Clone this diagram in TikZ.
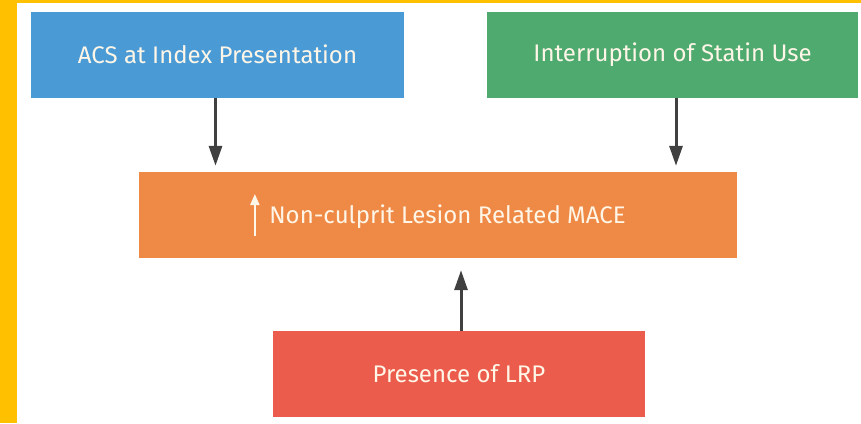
\documentclass[tikz,border=0pt]{standalone}
\usepackage{fontspec}
\setmainfont{Fira Sans}
\usepackage{tikz}
\usetikzlibrary{arrows.meta,positioning,calc}
\definecolor{FrameYellow}{HTML}{FFC000}
\definecolor{BoxBlue}{HTML}{4A9BD5}
\definecolor{BoxGreen}{HTML}{4EAA6F}
\definecolor{BoxOrange}{HTML}{EE8A46}
\definecolor{BoxRed}{HTML}{EB5C4C}
\definecolor{LabelCream}{HTML}{FFF6E8}
\definecolor{ArrGray}{HTML}{404040}

\begin{document}
\begin{tikzpicture}[x=1pt,y=-1pt,
  box/.style={inner sep=0pt,minimum height=86pt,align=center,
              text=LabelCream,font=\fontsize{24}{28}\selectfont},
  arr/.style={-{Triangle[length=20pt,width=13pt]},ArrGray,line width=3pt},
]
% frame
\fill[FrameYellow] (0,0) rectangle (861,423);
\fill[white] (17,3) rectangle (861,423);
\useasboundingbox (0,0) rectangle (861,423);
% boxes
\node[box,fill=BoxBlue,minimum width=373pt] (acs) at (217.5,54.5) {ACS at Index Presentation};
\node[box,fill=BoxGreen,minimum width=371pt] (statin) at (672.5,54.5) {Interruption of Statin Use};
\node[box,fill=BoxOrange,minimum width=598pt] (mace) at (438,215)
  {\tikz[x=1pt,y=1pt,baseline=0pt]\draw[-{Triangle[length=11pt,width=9pt]},LabelCream,line width=2pt] (0,-13) -- (0,29);\hspace{10pt}Non-culprit Lesion Related MACE};
\node[box,fill=BoxRed,minimum width=372pt] (lrp) at (459,374) {Presence of LRP};
% arrows
\draw[arr,shorten >=6pt] ($(acs.south)+(-2,0)$) -- ($(acs.south |- mace.north)+(-2,0)$);
\draw[arr,shorten >=6pt] ($(statin.south)+(3.5,0)$) -- ($(statin.south |- mace.north)+(3.5,0)$);
\draw[arr,shorten >=12pt] ($(lrp.north)+(2,0)$) -- ($(lrp.north |- mace.south)+(2,0)$);
\end{tikzpicture}
\end{document}
